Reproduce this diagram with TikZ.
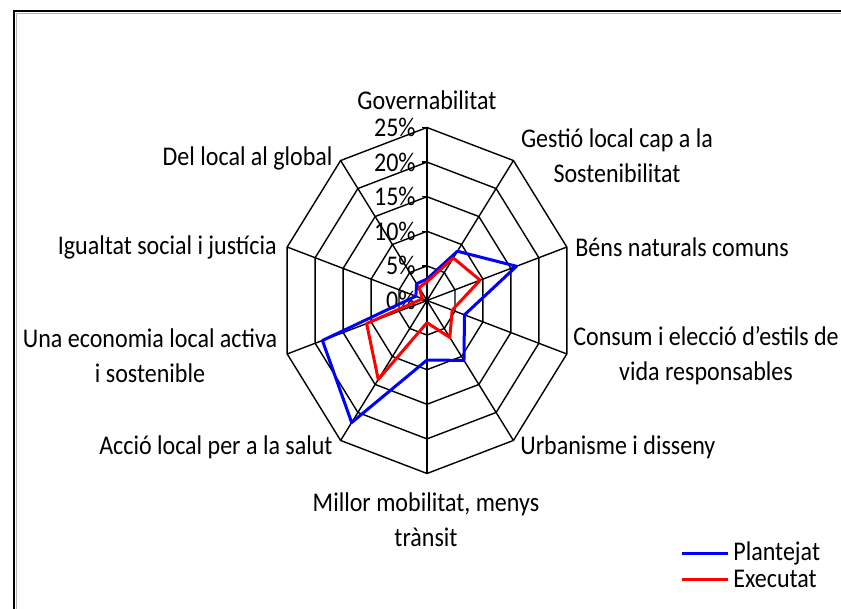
\documentclass[tikz,border=0pt]{standalone}
\usepackage{fontspec}
\setmainfont{Carlito}[FakeStretch=0.89]
\begin{document}
\begin{tikzpicture}[x=0.5pt,y=-0.5pt,
  gridline/.style={draw=black,line width=0.7pt},
  blueline/.style={draw=blue,line width=1.5pt,line join=round},
  redline/.style={draw=red,line width=1.5pt,line join=round},
  lbl/.style={inner sep=0pt,font=\fontsize{13.5}{17.5}\selectfont,text=black},
  pct/.style={lbl,anchor=east},
  framel/.style={draw=black,line width=1pt}]
\useasboundingbox (0,0) rectangle (841,609);
\clip (0,0) rectangle (841,609);
\fill[white] (0,0) rectangle (841,609);
% frame
\coordinate (fa) at (14,700);
\coordinate (fb) at (14,11);
\coordinate (fc) at (900,11);
\draw[framel] (fa) -- (fb) -- (fc);
\coordinate (fa2) at (16.5,700);
\coordinate (fb2) at (16.5,13.5);
\coordinate (fc2) at (900,13.5);
\draw[draw=gray!60,line width=0.5pt] (fa2) -- (fb2) -- (fc2);
% grid
\coordinate (c) at (427,300.5);
\foreach \k in {0,...,9} {
  \foreach \r in {1,...,5} {
    \coordinate (g\k-\r) at ({427+29.4*\r*sin(36*\k)},{300.5-34.6*\r*cos(36*\k)});
  }
}
\foreach \r in {1,...,5} {
  \draw[gridline] (g0-\r) -- (g1-\r) -- (g2-\r) -- (g3-\r) -- (g4-\r) -- (g5-\r) -- (g6-\r) -- (g7-\r) -- (g8-\r) -- (g9-\r) -- cycle;
}
\foreach \k in {0,...,9} {
  \draw[gridline] (c) -- (g\k-5);
}
% ticks on value axis
\foreach \r in {0,...,5} {
  \coordinate (t\r a) at (422,{300.5-34.6*\r});
  \coordinate (t\r b) at (427,{300.5-34.6*\r});
  \draw[gridline] (t\r a) -- (t\r b);
}
\fill[black] (c) circle (2);
% percentage labels
\foreach \r in {0,...,5} {
  \pgfmathtruncatemacro{\pv}{5*\r}
  \node[pct] (pl\r) at (416,{300.5-34.6*\r}) {\pv\%};
}
% data
\foreach \v [count=\i from 0] in {3.1,8.8,16.0,6.7,10.7,8.6,21.8,18.7,2.0,3.0} {
  \coordinate (b\i) at ({427+5.88*\v*sin(36*\i)},{300.5-6.92*\v*cos(36*\i)});
}
\foreach \v [count=\i from 0] in {2.7,7.6,9.5,4.5,6.6,3.2,14.1,10.8,0.8,2.3} {
  \coordinate (r\i) at ({427+5.88*\v*sin(36*\i)},{300.5-6.92*\v*cos(36*\i)});
}
\draw[blueline] (b0) -- (b1) -- (b2) -- (b3) -- (b4) -- (b5) -- (b6) -- (b7) -- (b8) -- (b9) -- cycle;
\draw[redline] (r0) -- (r1) -- (r2) -- (r3) -- (r4) -- (r5) -- (r6) -- (r7) -- (r8) -- (r9) -- cycle;
% category labels
\node[lbl] (a0) at (427,100) {Governabilitat};
\node[lbl,align=center] (a1) at (617,155.5) {Gestió local cap a la\\Sostenibilitat};
\node[lbl,anchor=west] (a2) at (575,247) {Béns naturals comuns};
\node[lbl,align=center] (a3) at (706,356) {Consum i elecció d’estils de\\vida responsables};
\node[lbl,anchor=west] (a4) at (520,447) {Urbanisme i disseny};
\node[lbl,align=center] (a5) at (426,519.5) {Millor mobilitat, menys\\trànsit};
\node[lbl,anchor=east] (a6) at (333,447) {Acció local per a la salut};
\node[lbl,align=center] (a7) at (150,355.5) {Una economia local activa\\i sostenible};
\node[lbl,anchor=east] (a8) at (277,247) {Igualtat social i justícia};
\node[lbl,anchor=east] (a9) at (333,158) {Del local al global};
% legend
\coordinate (lb1) at (682,553);
\coordinate (lb2) at (728,553);
\coordinate (lr1) at (682,579);
\coordinate (lr2) at (728,579);
\draw[blueline] (lb1) -- (lb2);
\draw[redline] (lr1) -- (lr2);
\node[lbl,anchor=west] (legb) at (733,553) {Plantejat};
\node[lbl,anchor=west] (legr) at (733,579) {Executat};
\end{tikzpicture}
\end{document}
